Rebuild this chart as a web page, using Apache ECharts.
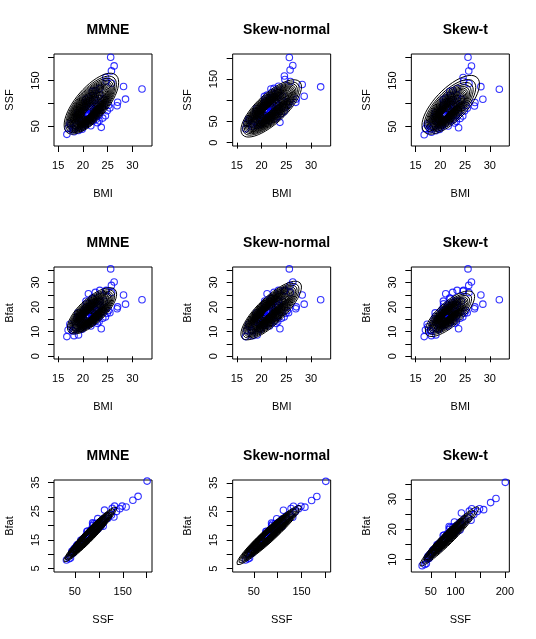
<!DOCTYPE html>
<html>
<head>
<meta charset="utf-8">
<script src="https://cdn.jsdelivr.net/npm/echarts@6/dist/echarts.min.js"></script>
<style>
html, body { margin: 0; padding: 0; background: #fff; }
#chart { width: 536px; height: 639px; }
</style>
</head>
<body>
<div id="chart"></div>
<script>
// AIS athletes (same athletes in every panel)
const bmi = [25.60, 26.30, 25.75, 24.60, 24.70, 25.80, 28.20, 31.93, 28.60, 27.00, 26.90, 16.75, 17.00, 23.70, 18.20, 19.10, 21.10, 17.50, 17.35, 22.50,
    23.40, 24.90, 25.20, 20.56, 20.67, 21.86, 21.88, 18.96, 21.04, 21.69, 20.62, 22.64, 19.44, 21.20, 22.03, 25.44, 22.63, 21.86, 22.27, 21.27,
    23.47, 23.19, 23.17, 24.54, 22.96, 19.76, 23.38, 22.67, 20.58, 21.59, 19.52, 22.08, 19.84, 20.26, 20.44, 19.58, 17.97, 20.98, 18.75, 20.44,
    19.76, 19.42, 19.84, 19.53, 17.96, 19.06, 20.06, 20.38, 19.72, 21.72, 20.62, 22.06, 21.35, 20.42, 20.07, 21.71, 20.43, 21.91, 20.11, 21.03,
    20.46, 23.25, 22.21, 20.93, 23.06, 20.62, 22.21, 22.87, 23.46, 21.45, 24.26, 22.96, 20.68, 18.50, 22.90, 24.00, 19.00, 21.50, 20.20, 22.40]
const ssf = [200.8, 182.0, 171.1, 157.0, 148.7, 144.0, 137.0, 131.5, 109.5, 102.6, 95.0, 32.5, 46.0, 47.8, 38.0, 41.0, 112.0, 52.6, 56.0, 128.0,
    133.0, 84.0, 96.0, 109.1, 102.8, 104.6, 126.4, 80.3, 75.2, 87.2, 97.9, 75.1, 65.1, 76.8, 117.8, 90.2, 98.3, 66.1, 78.2, 90.5,
    88.9, 87.1, 74.4, 73.2, 83.4, 54.9, 118.5, 65.4, 93.1, 51.4, 57.3, 62.4, 43.8, 60.3, 63.2, 46.4, 43.3, 74.1, 69.5, 53.9,
    63.0, 61.7, 53.7, 58.9, 46.3, 61.8, 48.4, 61.3, 69.2, 72.4, 78.7, 82.1, 71.6, 85.8, 57.1, 69.9, 61.4, 73.7, 68.3, 56.8,
    53.2, 62.0, 83.5, 89.4, 102.0, 78.3, 99.9, 93.5, 110.9, 88.7, 109.8, 94.5, 73.3, 50.0, 58.0, 68.0, 75.0, 95.0, 84.0, 108.0]
const bfat = [35.52, 30.20, 28.83, 26.50, 26.80, 25.90, 24.90, 23.00, 21.20, 20.10, 19.30, 8.00, 10.70, 11.20, 8.40, 8.70, 25.40, 12.00, 13.00, 26.00,
    26.80, 17.50, 18.60, 19.75, 21.30, 19.88, 23.66, 17.64, 15.58, 19.99, 22.43, 17.95, 15.07, 18.08, 23.30, 17.71, 18.77, 13.58, 16.59, 19.35,
    20.58, 20.93, 16.13, 16.01, 18.26, 13.26, 22.48, 14.41, 18.53, 12.34, 13.40, 14.86, 10.99, 13.28, 14.11, 11.31, 10.40, 16.04, 15.23, 12.66,
    14.21, 13.97, 12.88, 13.25, 10.36, 13.74, 11.87, 13.67, 15.11, 16.24, 16.45, 17.11, 15.97, 17.94, 13.32, 15.31, 14.11, 16.29, 14.80, 12.97,
    12.63, 14.03, 17.36, 18.42, 21.12, 16.83, 20.43, 19.94, 22.25, 18.53, 22.41, 19.83, 15.71, 11.60, 13.40, 15.50, 16.30, 20.80, 18.60, 22.00]

const models = ['MMNE', 'Skew-normal', 'Skew-t']
const varNames = ['BMI', 'SSF', 'Bfat']
const vars = [bmi, ssf, bfat]
// row -> [x variable, y variable]
const rowPairs = [[0, 1], [0, 2], [1, 2]]

// axis ticks / labels, one entry per panel (row major)
const xTicks = [
    [15, 20, 25, 30], [15, 20, 25, 30], [15, 20, 25, 30],
    [15, 20, 25, 30], [15, 20, 25, 30], [15, 20, 25, 30],
    [50, 100, 150, 200], [50, 100, 150, 200], [50, 100, 150, 200]
]
const xLabels = [
    [15, 20, 25, 30], [15, 20, 25, 30], [15, 20, 25, 30],
    [15, 20, 25, 30], [15, 20, 25, 30], [15, 20, 25, 30],
    [50, 150], [50, 150], [50, 100, 200]
]
const yTicks = [
    [50, 100, 150, 200], [0, 50, 100, 150, 200], [50, 100, 150, 200],
    [0, 5, 10, 15, 20, 25, 30, 35], [0, 5, 10, 15, 20, 25, 30, 35], [0, 5, 10, 15, 20, 25, 30, 35],
    [5, 10, 15, 20, 25, 30, 35], [5, 10, 15, 20, 25, 30, 35], [10, 15, 20, 25, 30, 35]
]
const yLabels = [
    [50, 150], [0, 50, 150], [50, 150],
    [0, 10, 20, 30], [0, 10, 20, 30], [0, 10, 20, 30],
    [5, 15, 25, 35], [5, 15, 25, 35], [10, 20, 30]
]
const xRange = [
    [14.15, 33.95], [14.15, 33.95], [14.15, 33.95],
    [14.15, 33.95], [14.15, 33.95], [14.15, 33.95],
    [6.6, 211], [5.6, 211], [10.6, 209]
]
const yRange = [
    [7, 208], [-8, 209], [8, 208],
    [-1.1, 36.3], [-1.1, 36.3], [-1.1, 36.3],
    [3.8, 35.9], [3.8, 36], [5.9, 36.3]
]

// contour levels as fraction of the density peak
const levels = [0.05, 0.075, 0.1, 0.125, 0.15, 0.175, 0.2, 0.225, 0.25, 0.275, 0.3, 0.325, 0.35, 0.375, 0.4, 0.425, 0.45, 0.475,
    0.5, 0.525, 0.55, 0.575, 0.6, 0.625, 0.65, 0.675, 0.7, 0.725, 0.75, 0.775, 0.8, 0.825, 0.85, 0.875, 0.9, 0.925, 0.95]

// fitted density shape for each panel: mode, spread, correlation, skew drift, tail df (0 = normal tails)
const fits = [
    { mu: [20.8, 76], sd: [2.25, 27.2], rho: 0.7, drift: [0.37, 9.6], df: 0 },
    { mu: [21.3, 76], sd: [2.5, 27.6], rho: 0.75, drift: [0.26, 1.9], df: 0 },
    { mu: [20.8, 75.6], sd: [2.22, 24.4], rho: 0.7, drift: [0.5, 8.4], df: 4 },
    { mu: [21.1, 16.2], sd: [2.03, 3.85], rho: 0.72, drift: [0.3, 0.93], df: 0 },
    { mu: [20.9, 17.4], sd: [2.5, 4.87], rho: 0.8, drift: [0.42, 0.49], df: 0 },
    { mu: [21.2, 16.2], sd: [1.9, 3.54], rho: 0.75, drift: [0.29, 0.42], df: 4 },
    { mu: [75, 16], sd: [22.7, 3.95], rho: 0.96, drift: [2.95, 0.4], df: 0 },
    { mu: [78, 16.5], sd: [27.6, 4.25], rho: 0.955, drift: [1.55, 0.1], df: 0 },
    { mu: [76, 16.3], sd: [22.8, 3.76], rho: 0.96, drift: [4.4, 0.53], df: 4 }
]

function levelRadius(f, df){
    if(!df) return Math.sqrt(-2 * Math.log(f))
    return Math.sqrt(df * (Math.pow(f, -2 / (df + 2)) - 1))
}

function contourRing(fit, r){
    let pts = []
    let cx = fit.mu[0] + r * fit.drift[0], cy = fit.mu[1] + r * fit.drift[1]
    let q = Math.sqrt(1 - fit.rho * fit.rho)
    for(let i = 0; i <= 100; i++){
        let t = i / 100 * Math.PI * 2
        pts.push([cx + r * fit.sd[0] * Math.cos(t),
                  cy + r * fit.sd[1] * (fit.rho * Math.cos(t) + q * Math.sin(t))])
    }
    return pts
}

const font = '"Liberation Sans", Arial, Helvetica, sans-serif'
const cellW = 536 / 3, cellH = 213

let chart = echarts.init(document.getElementById('chart'), null, { renderer: 'canvas' })

let titles = [], grids = [], xAxes = [], yAxes = [], series = []

for(let k = 0; k < 9; k++){
    let row = Math.floor(k / 3), col = k % 3
    let left = col * cellW + 54, top = row * cellH + 54
    let [xi, yi] = rowPairs[row]

    titles.push({
        text: models[col],
        left: col * cellW + 103,
        top: row * cellH + 18,
        textAlign: 'center',
        textStyle: { fontFamily: font, fontSize: 14, fontWeight: 'bold', color: '#000' }
    })
    grids.push({
        left: left, top: top, width: 98, height: 92,
        show: true, borderColor: '#000', borderWidth: 1, backgroundColor: 'transparent'
    })
    xAxes.push({
        type: 'value', gridIndex: k,
        min: xRange[k][0], max: xRange[k][1],
        name: varNames[xi], nameLocation: 'middle', nameGap: 42,
        nameTextStyle: { fontFamily: font, fontSize: 11, color: '#000' },
        axisLine: { show: false },
        axisTick: { show: true, inside: false, length: 6, customValues: xTicks[k], lineStyle: { color: '#000', width: 1 } },
        axisLabel: { customValues: xLabels[k], margin: 14, fontFamily: font, fontSize: 11, color: '#000' },
        splitLine: { show: false }
    })
    yAxes.push({
        type: 'value', gridIndex: k,
        min: yRange[k][0], max: yRange[k][1],
        name: varNames[yi], nameLocation: 'middle', nameGap: 39, nameRotate: 90,
        nameTextStyle: { fontFamily: font, fontSize: 11, color: '#000' },
        axisLine: { show: false },
        axisTick: { show: true, inside: false, length: 6, customValues: yTicks[k], lineStyle: { color: '#000', width: 1 } },
        axisLabel: { customValues: yLabels[k], rotate: 90, margin: 13, fontFamily: font, fontSize: 11, color: '#000' },
        splitLine: { show: false }
    })

    // observations
    series.push({
        type: 'scatter', xAxisIndex: k, yAxisIndex: k,
        data: vars[xi].map((v, i) => [v, vars[yi][i]]),
        symbol: 'circle', symbolSize: 6.5, z: 2,
        itemStyle: { color: 'rgba(0,0,0,0)', borderColor: '#0000FF', borderWidth: 1.1 }
    })

    // contours drawn over the points
    levels.forEach(f => {
        series.push({
            type: 'line', xAxisIndex: k, yAxisIndex: k,
            data: contourRing(fits[k], levelRadius(f, fits[k].df)),
            showSymbol: false, silent: true, z: 3,
            lineStyle: { color: '#000', width: 1 }
        })
    })
}

chart.setOption({
    animation: false,
    backgroundColor: '#fff',
    title: titles,
    grid: grids,
    xAxis: xAxes,
    yAxis: yAxes,
    series: series
})
</script>
</body>
</html>
